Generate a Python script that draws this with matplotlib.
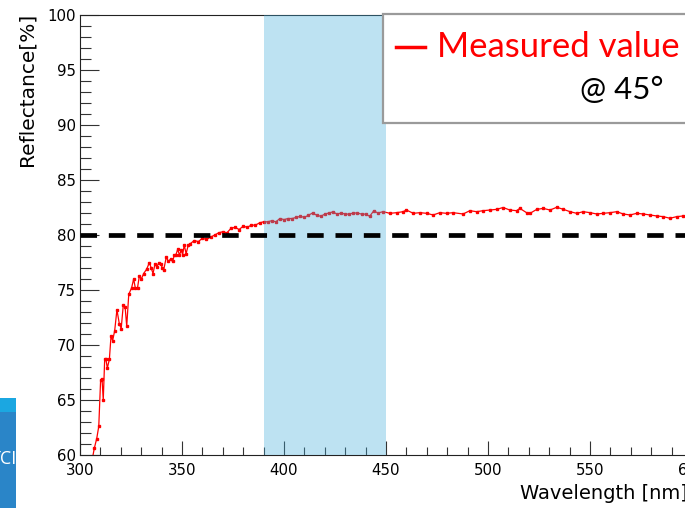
import matplotlib
matplotlib.use("Agg")
import matplotlib.pyplot as plt
from matplotlib.patches import Rectangle

# measured reflectance at 45 deg
wavelength = [306, 307, 308.2, 309.2, 310.1, 310.8, 311.4, 312.1, 312.7, 313.4, 314.4,
              315.2, 316, 317, 318.1, 319.3, 320.2, 321.2, 322.1, 322.9, 323.9,
              325.3, 326.3, 327.1, 328.2, 329.1, 330.1, 331.2, 332.7, 334, 334.9,
              335.8, 336.8, 337.6, 338.7, 339.5, 340.4, 341, 342.3, 343.3, 344.4,
              345.4, 346.3, 347, 347.9, 348.7, 349.7, 350.3, 351.1, 352, 353.1,
              354, 356, 358, 360, 362, 364, 366, 368, 370, 372, 374, 376, 378,
              380, 382, 384, 386, 388, 390, 392, 394, 396, 398, 400, 402, 404,
              406, 408, 410, 412, 414, 416, 418, 420, 422, 424, 426, 428, 430,
              432, 434, 436, 438, 440, 442, 444, 446, 448.6,
              451.9, 455.2, 458.4, 460, 463.4, 466.6, 470, 473.1, 476.4, 479.7,
              482.9, 487.8, 491.1, 494.4, 497.6, 500.9, 504.2, 507.4, 510.7, 514,
              515.6, 518.9, 520.6, 523.9, 527.1, 530.4, 533.7, 537, 540.2, 543.5,
              546.7, 550, 553.3, 556.5, 559.8, 563.1, 566.3, 569.6, 572.9, 576.1,
              579.4, 582.7, 585.9, 589.2, 592.5, 595.8, 599, 602]
reflectance = [59.6, 60.6, 61.5, 62.6, 66.8, 66.9, 65.0, 68.7, 68.7, 67.9, 68.7,
               70.8, 70.4, 71.3, 73.2, 71.9, 71.5, 73.6, 73.5, 71.7, 74.6,
               75.2, 76.0, 75.2, 75.2, 76.3, 76.0, 76.5, 76.9, 77.5, 77.0,
               76.5, 77.4, 77.1, 77.5, 77.4, 77.0, 76.8, 78.0, 77.6, 77.8,
               77.6, 78.2, 78.2, 78.7, 78.2, 78.6, 78.2, 79.1, 78.3, 79.1,
               79.2, 79.5, 79.4, 79.7, 79.6, 79.8, 80.0, 80.2, 80.3, 80.2, 80.6, 80.7, 80.5,
               80.8, 80.7, 80.9, 80.9, 81.1, 81.2, 81.2, 81.3, 81.2, 81.5, 81.4, 81.5, 81.5,
               81.6, 81.7, 81.6, 81.8, 82.0, 81.8, 81.7, 81.9, 82.0, 82.1, 81.9, 82.0, 81.9,
               81.9, 82.0, 82.0, 81.9, 81.9, 81.7, 82.2, 82.0, 82.12,
               81.97, 82.03, 82.12, 82.27, 81.97, 82.03, 81.97, 81.82, 82.03, 81.97,
               82.03, 81.91, 82.21, 82.12, 82.21, 82.27, 82.33, 82.5, 82.27, 82.21,
               82.42, 82.03, 81.97, 82.33, 82.42, 82.27, 82.52, 82.33, 82.12, 81.97,
               82.12, 82.03, 81.91, 81.97, 82.03, 82.12, 81.91, 81.82, 81.97, 81.91,
               81.82, 81.73, 81.67, 81.52, 81.67, 81.73, 81.6, 81.7]

band = [390, 450]
spec_level = 80
x_limits = [300, 650]
y_limits = [60, 100]
x_ticks = [300, 350, 400, 450, 500, 550, 600]
y_ticks = [60, 65, 70, 75, 80, 85, 90, 95, 100]

W, H = 685, 508
fig = plt.figure(figsize=(W / 100, H / 100), dpi=100)
plt.rcParams['font.family'] = ['DejaVu Sans']

# axes run past the right edge of the (cropped) slide
px_per_nm = 2.04
ax = fig.add_axes([80 / W, 53 / H, (x_limits[1] - x_limits[0]) * px_per_nm / W, 440 / H])
ax.set_xlim(x_limits)
ax.set_ylim(y_limits)

ax.plot(wavelength, reflectance, color='#ff0000', lw=0.9, marker='s', ms=1.6,
        mec='#ff0000', mfc='#ff0000', zorder=2)
ax.axvspan(band[0], band[1], color='#42aedc', alpha=0.35, lw=0, zorder=3)
ax.axhline(spec_level, color='black', lw=3.4, dashes=(3.5, 2.5), zorder=4)

ax.set_xticks(x_ticks)
ax.set_yticks(y_ticks)
ax.set_xticks(range(300, 651, 10), minor=True)
ax.set_yticks(range(60, 101, 1), minor=True)
ax.tick_params(axis='y', which='major', direction='in', length=13.7, width=0.8,
               labelsize=10.8, pad=3, color='#333333')
ax.tick_params(axis='y', which='minor', direction='in', length=7.7, width=0.8, color='#333333')
ax.tick_params(axis='x', which='major', direction='in', length=9.9, width=0.8,
               labelsize=10.8, pad=6, color='#333333')
ax.tick_params(axis='x', which='minor', direction='in', length=5.5, width=0.8, color='#333333')
for s in ax.spines.values():
    s.set_linewidth(0.8)
    s.set_color('#222222')

fig.text(27 / W, 1 - 13 / H, 'Reflectance[%]', rotation=90, ha='center', va='top', fontsize=14.5)
fig.text(520 / W, 1 - 499 / H, 'Wavelength [nm]', ha='left', va='baseline', fontsize=14)

# legend text box pasted on the slide
box = Rectangle((383 / W, 1 - 123 / H), 330 / W, 109 / H, transform=fig.transFigure,
                facecolor='white', edgecolor='#9a9a9a', lw=1.6, zorder=10)
fig.patches.append(box)
fig.add_artist(plt.Line2D([396 / W, 425 / W], [1 - 47 / H, 1 - 47 / H],
                          transform=fig.transFigure, color='#ff0000', lw=2.5, zorder=11))
fig.text(437 / W, 1 - 47 / H, 'Measured value', color='#ff0000', fontsize=25,
         family=['Lato', 'DejaVu Sans'], ha='left', va='center', zorder=11)
fig.text(663 / W, 1 - 90 / H, '@ 45°', color='black', fontsize=22.5,
         family=['Lato', 'DejaVu Sans'], ha='right', va='center', zorder=11)

# slide decoration in lower left corner
fig.patches.append(Rectangle((0, 1 - 412 / H), 16 / W, 14 / H, transform=fig.transFigure,
                             facecolor='#1ba7e1', lw=0, zorder=10))
fig.patches.append(Rectangle((0, 0), 16 / W, 96 / H, transform=fig.transFigure,
                             facecolor='#2a85c8', lw=0, zorder=10))
fig.text(17 / W, 1 - 459 / H, 'TCI', color='white', fontsize=13, ha='right', va='center',
         family=['Open Sans', 'DejaVu Sans'], zorder=11)

fig.savefig('out.png', dpi=100)
